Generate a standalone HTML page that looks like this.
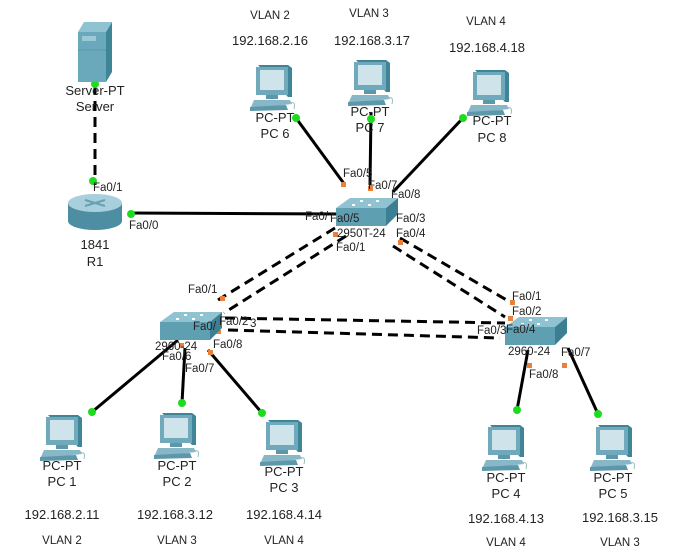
<!DOCTYPE html>
<html><head><meta charset="utf-8"><style>
html,body{margin:0;padding:0;background:#fff;}
svg{display:block;}
text{font-family:"Liberation Sans",sans-serif;font-size:13px;fill:#222;}
.t{text-anchor:middle;}
.s{font-size:11.5px;}
</style></head><body>
<svg width="676" height="558" viewBox="0 0 676 558" xmlns="http://www.w3.org/2000/svg">
<defs>
<g id="pc">
  <polygon points="8,0 38,0 42,3 42,32 38,32" fill="#3e8597"/>
  <rect x="6" y="2" width="32" height="28" fill="#6fa9bb"/>
  <rect x="10" y="5" width="24" height="20" fill="#cfe3ea"/>
  <rect x="16" y="30" width="12" height="4" fill="#5c98aa"/>
  <polygon points="4,35 40,35 42,39 0,44 " fill="#88b8c8"/>
  <polygon points="0,42 36,40 38,45 0,46" fill="#5c98aa"/>
  <path d="M40,38 q6,-2 4,6" stroke="#9bb" fill="none"/>
</g>
<g id="sw">
  <polygon points="0,10 14,0 62,0 50,10" fill="#8fc3d2"/>
  <polygon points="0,10 50,10 50,28 0,28" fill="#5f9fb2"/>
  <polygon points="50,10 62,0 62,16 50,28" fill="#3d7f92"/>
  <rect x="24" y="2" width="3" height="2" fill="#fff"/><rect x="40" y="2" width="3" height="2" fill="#fff"/>
  <rect x="16" y="6" width="3" height="2" fill="#fff"/><rect x="32" y="6" width="3" height="2" fill="#fff"/>
</g>
</defs>

<g stroke="#000" stroke-width="3" fill="none">
  <line x1="95" y1="85" x2="95" y2="185" stroke-dasharray="10,6"/>
  <line x1="130" y1="213" x2="340" y2="214"/>
  <line x1="296" y1="118" x2="345" y2="185"/>
  <line x1="371" y1="112" x2="370" y2="185"/>
  <line x1="463" y1="118" x2="393" y2="192"/>
  <g stroke-dasharray="10,6">
    <line x1="335" y1="228" x2="218" y2="300"/>
    <line x1="346" y1="236" x2="224" y2="313"/>
    <line x1="400" y1="238" x2="510" y2="302"/>
    <line x1="393" y1="246" x2="505" y2="317"/>
    <line x1="225" y1="318" x2="505" y2="323"/>
    <line x1="228" y1="330" x2="500" y2="338"/>
  </g>
  <line x1="178" y1="340" x2="92" y2="412"/>
  <line x1="185" y1="348" x2="182" y2="403"/>
  <line x1="208" y1="350" x2="262" y2="413"/>
  <line x1="528" y1="350" x2="517" y2="410"/>
  <line x1="568" y1="348" x2="598" y2="414"/>
</g>
<g fill="#1ddc1d">
  <circle cx="95" cy="84" r="4"/><circle cx="93" cy="181" r="4"/><circle cx="131" cy="214" r="4"/>
  <circle cx="296" cy="118" r="4"/><circle cx="371" cy="119" r="4"/><circle cx="463" cy="118" r="4"/>
  <circle cx="92" cy="412" r="4"/><circle cx="182" cy="403" r="4"/><circle cx="262" cy="413" r="4"/>
  <circle cx="517" cy="410" r="4"/><circle cx="598" cy="414" r="4"/>
</g>
<g fill="#e8813a">
  <rect x="341" y="182" width="5" height="5"/><rect x="368" y="186" width="5" height="5"/>
  <rect x="333" y="232" width="5" height="5"/><rect x="398" y="240" width="5" height="5"/>
  <rect x="220" y="296" width="5" height="5"/><rect x="216" y="330" width="5" height="4"/>
  <rect x="180" y="343" width="4" height="5"/><rect x="208" y="350" width="5" height="5"/>
  <rect x="510" y="300" width="5" height="5"/><rect x="508" y="316" width="5" height="5"/>
  <rect x="527" y="363" width="5" height="5"/><rect x="562" y="363" width="5" height="5"/>
</g>

<polygon points="78,32 84,22 112,22 106,32" fill="#8fc3d2"/>
<rect x="78" y="32" width="28" height="50" fill="#6aa9bb"/>
<polygon points="106,32 112,22 112,72 106,82" fill="#3e8597"/>
<rect x="82" y="36" width="14" height="5" fill="#9cc9d6"/>
<line x1="78" y1="50" x2="106" y2="50" stroke="#5a97a8"/>
<text class="t" x="95" y="95">Server-PT</text>
<text class="t" x="95" y="111">Server</text>

<rect x="68" y="203" width="54" height="18" fill="#4d8ea2"/>
<ellipse cx="95" cy="221" rx="27" ry="9" fill="#4d8ea2"/>
<ellipse cx="95" cy="203" rx="27" ry="9" fill="#a8d0dc"/>
<path d="M85,200 l20,6 M105,200 l-20,6" stroke="#6a9fb0" stroke-width="2"/>
<text x="93" y="191" class="s">Fa0/1</text>
<text x="129" y="229" class="s">Fa0/0</text>
<text class="t" x="95" y="249">1841</text>
<text class="t" x="95" y="266">R1</text>

<use href="#sw" x="336" y="198"/>
<use href="#sw" x="160" y="312"/>
<use href="#sw" x="505" y="317"/>

<g class="s">
<text x="343" y="177" class="s">Fa0/5</text>
<text x="368" y="189" class="s">Fa0/7</text>
<text x="391" y="198" class="s">Fa0/8</text>
<text x="305" y="220" class="s">Fa0/</text>
<text x="330" y="222" class="s">Fa0/5</text>
<text x="396" y="222" class="s">Fa0/3</text>
<text x="396" y="237" class="s">Fa0/4</text>
<text x="337" y="237" class="s">2950T-24</text>
<text x="336" y="251" class="s">Fa0/1</text>
<text x="188" y="293" class="s">Fa0/1</text>
<text x="193" y="330" class="s">Fa0/</text>
<text x="219" y="325" class="s">Fa0/2</text>
<text x="250" y="327" class="s">3</text>
<text x="155" y="350" class="s">2960-24</text>
<text x="213" y="348" class="s">Fa0/8</text>
<text x="162" y="360" class="s">Fa0/6</text>
<text x="185" y="372" class="s">Fa0/7</text>
<text x="512" y="300" class="s">Fa0/1</text>
<text x="512" y="315" class="s">Fa0/2</text>
<text x="477" y="334" class="s">Fa0/3</text>
<text x="506" y="333" class="s">Fa0/4</text>
<text x="508" y="355" class="s">2960-24</text>
<text x="561" y="356" class="s">Fa0/7</text>
<text x="529" y="378" class="s">Fa0/8</text>
</g>

<use href="#pc" x="250" y="65"/>
<use href="#pc" x="348" y="60"/>
<use href="#pc" x="467" y="70"/>
<use href="#pc" x="40" y="415"/>
<use href="#pc" x="154" y="413"/>
<use href="#pc" x="260" y="420"/>
<use href="#pc" x="482" y="425"/>
<use href="#pc" x="590" y="425"/>

<text class="t" x="275" y="122">PC-PT</text><text class="t" x="275" y="138">PC 6</text>
<text class="t" x="370" y="116">PC-PT</text><text class="t" x="370" y="132">PC 7</text>
<text class="t" x="492" y="125">PC-PT</text><text class="t" x="492" y="142">PC 8</text>
<text class="t" x="62" y="470">PC-PT</text><text class="t" x="62" y="486">PC 1</text>
<text class="t" x="177" y="470">PC-PT</text><text class="t" x="177" y="486">PC 2</text>
<text class="t" x="284" y="476">PC-PT</text><text class="t" x="284" y="492">PC 3</text>
<text class="t" x="506" y="482">PC-PT</text><text class="t" x="506" y="498">PC 4</text>
<text class="t" x="613" y="482">PC-PT</text><text class="t" x="613" y="498">PC 5</text>

<text class="t s" x="270" y="19">VLAN 2</text><text class="t" x="270" y="45">192.168.2.16</text>
<text class="t s" x="369" y="17">VLAN 3</text><text class="t" x="372" y="45">192.168.3.17</text>
<text class="t s" x="486" y="25">VLAN 4</text><text class="t" x="487" y="52">192.168.4.18</text>
<text class="t" x="62" y="519">192.168.2.11</text><text class="t s" x="62" y="544">VLAN 2</text>
<text class="t" x="175" y="519">192.168.3.12</text><text class="t s" x="177" y="544">VLAN 3</text>
<text class="t" x="284" y="519">192.168.4.14</text><text class="t s" x="284" y="544">VLAN 4</text>
<text class="t" x="506" y="523">192.168.4.13</text><text class="t s" x="506" y="546">VLAN 4</text>
<text class="t" x="620" y="522">192.168.3.15</text><text class="t s" x="620" y="546">VLAN 3</text>
</svg>
</body></html>
